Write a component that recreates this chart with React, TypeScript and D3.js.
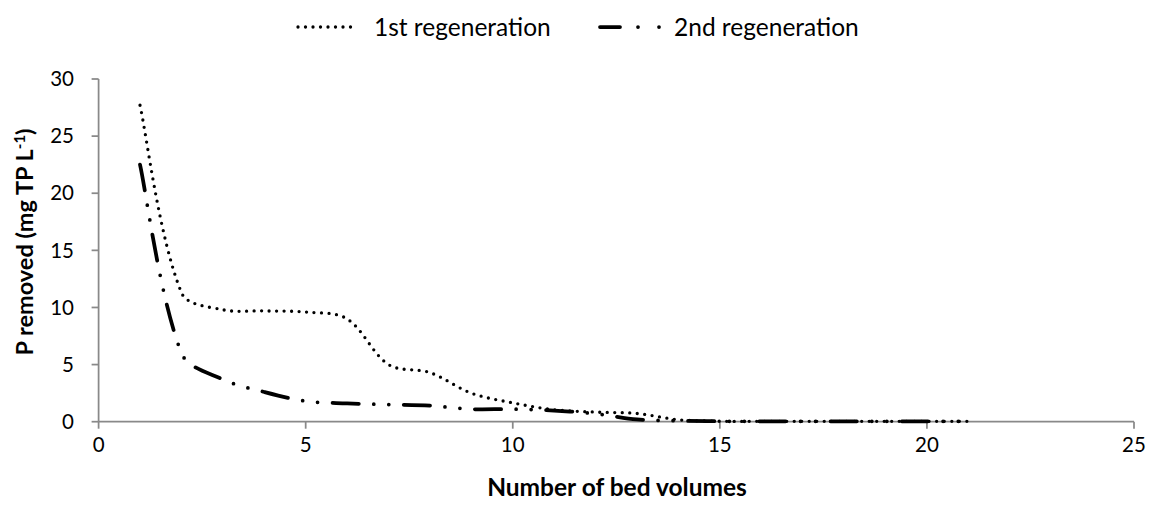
import React from "react";
import * as d3 from "d3";

const bedVolumes = [1, 2, 3, 4, 5, 6, 7, 8, 9, 10, 11, 12, 13, 14, 15, 16, 17, 18, 19, 20, 21];
const firstRegeneration = [27.7, 11.3, 9.8, 9.7, 9.6, 9.0, 5.0, 4.3, 2.5, 1.65, 1.05, 0.84, 0.72, 0.17, 0.04, 0.03, 0.03, 0.03, 0.03, 0.03, 0.03];
const secondRegeneration = [22.5, 6.0, 3.7, 2.6, 1.8, 1.6, 1.5, 1.4, 1.1, 1.1, 0.97, 0.7, 0.2, 0.08, 0.04, 0.03, 0.03, 0.03, 0.03, 0.03, 0.03];
const xTicks = [0, 5, 10, 15, 20, 25];
const yTicks = [0, 5, 10, 15, 20, 25, 30];
const seriesNames = ["1st regeneration", "2nd regeneration"];

const W = 1149;
const H = 507;
const FONT = "Lato, 'Open Sans', sans-serif";
const AXIS = "#898989";

// Excel-like smoothed line: Bezier segments whose tangents are scaled by the neighbouring chord lengths
function excelSmooth(context: any) {
  let pts: [number, number][] = [];
  const dist = (a: [number, number], b: [number, number]) => Math.hypot(b[0] - a[0], b[1] - a[1]);
  return {
    areaStart() {},
    areaEnd() {},
    lineStart() {
      pts = [];
    },
    point(x: number, y: number) {
      pts.push([x, y]);
    },
    lineEnd() {
      const n = pts.length;
      if (!n) return;
      context.moveTo(pts[0][0], pts[0][1]);
      if (n === 2) {
        context.lineTo(pts[1][0], pts[1][1]);
        return;
      }
      for (let i = 0; i < n - 1; i++) {
        const p1 = pts[i];
        const p2 = pts[i + 1];
        const p0 = i > 0 ? pts[i - 1] : null;
        const p3 = i + 2 < n ? pts[i + 2] : null;
        const d12 = dist(p1, p2);
        let c1x: number, c1y: number, c2x: number, c2y: number;
        if (p0) {
          const d01 = dist(p0, p1);
          const f = d12 / (d01 + d12) / 3;
          c1x = p1[0] + (p2[0] - p0[0]) * f;
          c1y = p1[1] + (p2[1] - p0[1]) * f;
        } else {
          c1x = p1[0] + (p2[0] - p1[0]) / 6;
          c1y = p1[1] + (p2[1] - p1[1]) / 6;
        }
        if (p3) {
          const d23 = dist(p2, p3);
          const f = d12 / (d12 + d23) / 3;
          c2x = p2[0] - (p3[0] - p1[0]) * f;
          c2y = p2[1] - (p3[1] - p1[1]) * f;
        } else {
          c2x = p2[0] - (p2[0] - p1[0]) / 6;
          c2y = p2[1] - (p2[1] - p1[1]) / 6;
        }
        context.bezierCurveTo(c1x, c1y, c2x, c2y, p2[0], p2[1]);
      }
    },
  };
}

export default function App() {
  const x = d3.scaleLinear().domain([0, 25]).range([98.6, 1134]);
  const y = d3.scaleLinear().domain([0, 30]).range([421.7, 79]);
  const line = d3
    .line<number>()
    .x((_, i) => x(bedVolumes[i]))
    .y((d) => y(d))
    .curve(excelSmooth as any);

  const dotStyle = { strokeWidth: 3.3, strokeDasharray: "0 7.5", strokeLinecap: "round" as const };
  const dashStyle = { strokeWidth: 3.75, strokeDasharray: "26.25 15 0 15 0 15", strokeLinecap: "round" as const };

  return (
    <div style={{ position: "absolute", left: 0, top: 0 }}>
      <svg width={W} height={H} style={{ display: "block", background: "#fff" }}>
        <rect width={W} height={H} fill="#fff" />
        {/* axes */}
        <line x1={x(0)} x2={x(25)} y1={y(0)} y2={y(0)} stroke={AXIS} strokeWidth={1.75} />
        <line x1={x(0)} x2={x(0)} y1={y(0)} y2={y(30)} stroke={AXIS} strokeWidth={1.75} />
        {xTicks.map((t) => (
          <g key={"xt" + t}>
            <line x1={x(t)} x2={x(t)} y1={y(0)} y2={y(0) + 7} stroke={AXIS} strokeWidth={1.75} />
            <text x={x(t)} y={445} dy="0.35em" textAnchor="middle" fontFamily={FONT} fontSize={20.5} fill="#000">
              {t}
            </text>
          </g>
        ))}
        {yTicks.map((t) => (
          <g key={"yt" + t}>
            <line x1={x(0) - 7} x2={x(0)} y1={y(t)} y2={y(t)} stroke={AXIS} strokeWidth={1.75} />
            <text x={74} y={y(t)} dy="0.35em" textAnchor="end" fontFamily={FONT} fontSize={20.5} fill="#000">
              {t}
            </text>
          </g>
        ))}
        {/* series */}
        <path d={line(firstRegeneration) || ""} fill="none" stroke="#000" {...dotStyle} />
        <path d={line(secondRegeneration) || ""} fill="none" stroke="#000" {...dashStyle} />
        {/* axis titles */}
        <text x={617} y={496} textAnchor="middle" fontFamily={FONT} fontSize={24.5} fontWeight="bold" fill="#000">
          Number of bed volumes
        </text>
        <text
          transform={`translate(33, 242) rotate(-90)`}
          textAnchor="middle"
          fontFamily={FONT}
          fontSize={23.5}
          fontWeight="bold"
          fill="#000"
        >
          P removed (mg TP L<tspan dy={-8} fontSize={15}>-1</tspan>
          <tspan dy={8}>)</tspan>
        </text>
        {/* legend */}
        <line x1={298} x2={358} y1={27} y2={27} stroke="#000" strokeWidth={3.3} strokeDasharray="0 7.5" strokeLinecap="round" />
        <text x={374} y={27} dy="0.35em" fontFamily={FONT} fontSize={24.5} fill="#000">
          {seriesNames[0]}
        </text>
        <line x1={600} x2={662} y1={27} y2={27} stroke="#000" strokeWidth={3.75} strokeDasharray="20 18 0 21 0 100" strokeLinecap="round" />
        <text x={674} y={27} dy="0.35em" fontFamily={FONT} fontSize={24.5} fill="#000">
          {seriesNames[1]}
        </text>
      </svg>
    </div>
  );
}
